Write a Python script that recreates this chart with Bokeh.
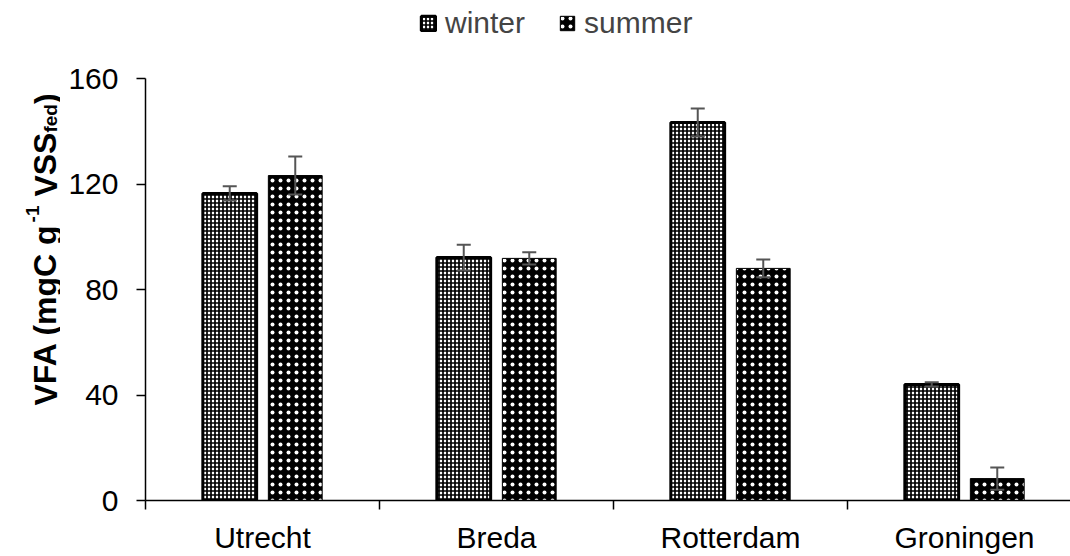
from bokeh.plotting import figure
from bokeh.models import (ColumnDataSource, Range1d, FixedTicker, Whisker, TeeHead,
                          Legend, LegendItem, Label)
from bokeh.layouts import row
from bokeh.embed import file_html
from bokeh.resources import INLINE

# ---- data ----
sites = ["Utrecht", "Breda", "Rotterdam", "Groningen"]
winter = [116.4, 92.1, 143.3, 44.0]
winter_err = [2.7, 4.9, 5.3, 0.8]
summer = [123.2, 91.8, 88.0, 8.3]
summer_err = [7.2, 2.3, 3.4, 4.2]
y_ticks = [0, 40, 80, 120, 160]

FONT = "Liberation Sans"
H = 556
LW = 60
W = 1070 - LW
BOTTOM = 56
OFF = 0.14
BW = 0.23
Y_MAX = 160
# frame spans canvas top..500px; 160 sits 422px above the baseline
Y_END = Y_MAX * (H - BOTTOM) / 422.0

idx = list(range(len(sites)))
centers = [i + 0.5 for i in idx]
src_w = ColumnDataSource(dict(
    x=[c - OFF for c in centers], top=winter,
    upper=[v + e for v, e in zip(winter, winter_err)],
    lower=[v - e for v, e in zip(winter, winter_err)]))
src_s = ColumnDataSource(dict(
    x=[c + OFF for c in centers], top=summer,
    upper=[v + e for v, e in zip(summer, summer_err)],
    lower=[v - e for v, e in zip(summer, summer_err)]))

p = figure(width=W, height=H, output_backend="svg", toolbar_location=None,
           x_range=Range1d(0, 3.953), y_range=Range1d(0, Y_END))
p.min_border_left = 145 - LW
p.min_border_right = 0
p.min_border_top = 0
p.min_border_bottom = BOTTOM
p.outline_line_color = None
p.xgrid.visible = False
p.ygrid.visible = False
p.background_fill_color = "white"

rw = p.vbar(x="x", top="top", width=BW, source=src_w, fill_color="white",
            line_color="black", line_width=3, hatch_pattern="+", hatch_color="black",
            hatch_scale=4, hatch_weight=1.7)
rs = p.vbar(x="x", top="top", width=BW, source=src_s, fill_color="black",
            line_color="black", line_width=1, hatch_pattern=".", hatch_color="white",
            hatch_scale=8, hatch_weight=1.7)

for src in (src_w, src_s):
    wk = Whisker(base="x", upper="upper", lower="lower", source=src,
                 line_color="#555555", line_width=2, level="annotation",
                 upper_head=TeeHead(size=14, line_color="#555555", line_width=2),
                 lower_head=TeeHead(size=14, line_color="#555555", line_width=2))
    p.add_layout(wk)

# axes
xa = p.xaxis[0]
xa.ticker = FixedTicker(ticks=centers, minor_ticks=[float(i) for i in range(len(sites) + 1)])
xa.major_label_overrides = {c: s for c, s in zip(centers, sites)}
xa.major_tick_line_color = None
xa.major_tick_out = 0
xa.major_tick_in = 0
xa.minor_tick_out = 9
xa.minor_tick_in = 0
xa.minor_tick_line_color = "black"
xa.minor_tick_line_width = 1.5
xa.axis_line_color = "black"
xa.axis_line_width = 1.5
xa.major_label_text_font = FONT
xa.major_label_text_font_size = "30px"
xa.major_label_text_color = "black"
xa.major_label_standoff = 11

ya = p.yaxis[0]
ya.ticker = FixedTicker(ticks=y_ticks)
ya.bounds = (0, Y_MAX)
ya.minor_tick_line_color = None
ya.major_tick_out = 9
ya.major_tick_in = 0
ya.major_tick_line_color = "black"
ya.major_tick_line_width = 1.5
ya.axis_line_color = "black"
ya.axis_line_width = 1.5
ya.major_label_text_font = FONT
ya.major_label_text_font_size = "30px"
ya.major_label_text_color = "black"
ya.major_label_standoff = 18

legend = Legend(items=[LegendItem(label="winter", renderers=[rw]),
                       LegendItem(label="summer", renderers=[rs])],
                orientation="horizontal", location=(274, 460),
                label_text_font=FONT, label_text_font_size="30px",
                glyph_width=18, glyph_height=18, label_standoff=8, spacing=33,
                padding=0, margin=0, border_line_color=None,
                background_fill_alpha=0)
p.add_layout(legend)

# left strip holding the y axis title (superscript / subscript pieces)
lf = figure(width=LW, height=H, output_backend="svg", toolbar_location=None,
            x_range=Range1d(0, 1), y_range=Range1d(0, 1))
lf.min_border_left = 0
lf.min_border_right = 0
lf.min_border_top = 0
lf.min_border_bottom = BOTTOM
lf.axis.visible = False
lf.grid.visible = False
lf.outline_line_color = None

BIG, SMALL = 32, 19
SP = 278 / 1000 * BIG
base_x = 45
y0 = 95
# (text, font size, shift across baseline, advance along the text)
pieces = [
    ("VFA (mgC g", BIG, 0, (667+611+722+278+333+889+611+722+278+611) / 1000 * BIG),
    ("-1", SMALL, -13, (333+556) / 1000 * SMALL + SP),
    ("VSS", BIG, 0, (667+667+667) / 1000 * BIG),
    ("fed", SMALL, 5, (333+556+611) / 1000 * SMALL),
    (")", BIG, 0, 333 / 1000 * BIG),
]
cur = y0
for txt, fs, dx, w in pieces:
    lf.add_layout(Label(x=base_x + dx, y=cur, x_units="screen", y_units="screen",
                        text=txt, angle=1.5708, text_font=FONT, text_font_style="bold",
                        text_font_size=f"{fs}px", text_color="black",
                        text_align="left", text_baseline="alphabetic"))
    cur += w

layout = row(lf, p, spacing=0)
open("out.html", "w").write(file_html(layout, INLINE))
